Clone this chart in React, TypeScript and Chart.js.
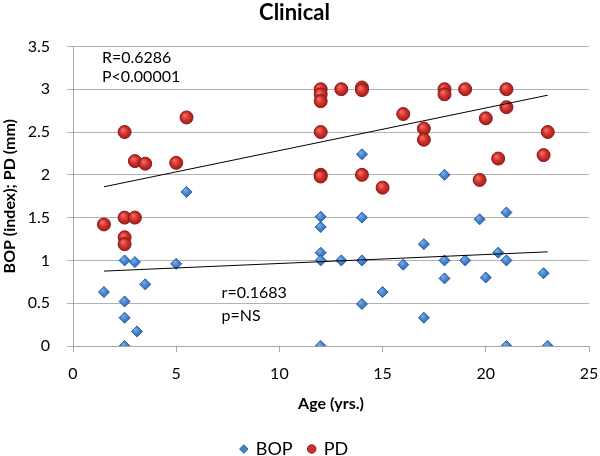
import React, { useEffect, useRef } from "react";
import { Chart, registerables } from "chart.js";

Chart.register(...registerables);

const bopX = [1.5, 2.5, 2.5, 2.5, 2.5, 3.0, 3.1, 3.5, 5.0, 5.5, 12, 12, 12, 12, 12, 13, 14, 14, 14, 14, 15, 16, 17, 17, 18, 18, 18, 19, 19.7, 20, 20.6, 21, 21, 21, 22.8, 23];
const bopY = [0.63, 1.0, 0.52, 0.33, 0.0, 0.98, 0.17, 0.72, 0.96, 1.8, 1.51, 1.39, 1.09, 1.0, 0.0, 1.0, 2.24, 1.5, 1.0, 0.49, 0.63, 0.95, 1.19, 0.33, 2.0, 1.0, 0.79, 1.0, 1.48, 0.8, 1.09, 1.56, 1.0, 0.0, 0.85, 0.0];

const pdX = [1.5, 2.5, 2.5, 2.5, 2.5, 3.0, 3.0, 3.5, 5.0, 5.5, 12, 12, 12, 12, 12, 12, 13, 14, 14, 14, 15, 16, 17, 17, 18, 18, 19, 19.7, 20, 20.6, 21, 21, 22.8, 23];
const pdY = [1.42, 2.5, 1.5, 1.27, 1.19, 2.16, 1.5, 2.13, 2.14, 2.67, 3.0, 2.94, 2.86, 2.5, 2.0, 1.98, 3.0, 3.02, 2.99, 2.0, 1.85, 2.71, 2.54, 2.41, 3.0, 2.94, 3.0, 1.94, 2.66, 2.19, 3.0, 2.79, 2.23, 2.5];

const trendX = [1.5, 23];
const pdTrendY = [1.86, 2.93];
const bopTrendY = [0.875, 1.1];

const xTicks = [0, 5, 10, 15, 20, 25];
const yTicks = [0, 0.5, 1, 1.5, 2, 2.5, 3, 3.5];

const notes = [
  { text: "R=0.6286", x: 1.4, y: 3.37 },
  { text: "P<0.00001", x: 1.4, y: 3.14 },
  { text: "r=0.1683", x: 7.2, y: 0.62 },
  { text: "p=NS", x: 7.2, y: 0.35 },
];

const FONT = "Lato, 'Open Sans', sans-serif";

const toPts = (xs: number[], ys: number[]) => xs.map((x, i) => ({ x, y: ys[i] }));

const shaded = (light: string, mid: string, dark: string, r: number) => (c: any) => {
  const chart = c.chart;
  const sx = chart.scales?.x;
  const sy = chart.scales?.y;
  if (!c.parsed || !sx || !sy || !chart.chartArea) return mid;
  const px = sx.getPixelForValue(c.parsed.x);
  const py = sy.getPixelForValue(c.parsed.y);
  if (!isFinite(px) || !isFinite(py)) return mid;
  const g = chart.ctx.createRadialGradient(px - r * 0.3, py - r * 0.35, 0, px, py, r);
  g.addColorStop(0, light);
  g.addColorStop(0.55, mid);
  g.addColorStop(1, dark);
  return g;
};

export default function App() {
  const ref = useRef<HTMLCanvasElement | null>(null);
  useEffect(() => {
    if (!ref.current) return;
    const notePlugin = {
      id: "notes",
      afterDatasetsDraw(chart: any) {
        const { ctx, scales } = chart;
        ctx.save();
        ctx.fillStyle = "#000";
        ctx.font = `16px ${FONT}`;
        ctx.textBaseline = "middle";
        ctx.textAlign = "left";
        notes.forEach((n) => {
          ctx.fillText(n.text, scales.x.getPixelForValue(n.x), scales.y.getPixelForValue(n.y));
        });
        ctx.restore();
      },
    };
    const chart = new Chart(ref.current, {
      type: "scatter",
      data: {
        datasets: [
          {
            label: "BOP",
            data: toPts(bopX, bopY),
            pointStyle: "rectRot",
            pointRadius: 5.5,
            backgroundColor: shaded("#7fb0ea", "#4382d0", "#2c62a8", 6),
            borderColor: "#2d5d9c",
            borderWidth: 1,
            order: 2,
          },
          {
            label: "PD",
            data: toPts(pdX, pdY),
            pointStyle: "circle",
            pointRadius: 6.5,
            backgroundColor: shaded("#f07a70", "#d0302c", "#9a1c18", 7),
            borderColor: "#8e1b18",
            borderWidth: 1,
            order: 1,
          },
          {
            label: "PD trend",
            type: "line",
            data: toPts(trendX, pdTrendY),
            borderColor: "#000",
            borderWidth: 1,
            pointRadius: 0,
            showLine: true,
            order: 0,
          } as any,
          {
            label: "BOP trend",
            type: "line",
            data: toPts(trendX, bopTrendY),
            borderColor: "#000",
            borderWidth: 1,
            pointRadius: 0,
            showLine: true,
            order: 0,
          } as any,
        ],
      },
      options: {
        animation: false,
        responsive: false,
        layout: { padding: { left: 0, right: 11, top: 0, bottom: -12 } },
        plugins: {
          title: {
            display: true,
            text: "Clinical",
            color: "#000",
            font: { family: FONT, size: 22, weight: "bold" },
            padding: { top: 0, bottom: 20 },
          },
          legend: {
            position: "bottom",
            labels: {
              filter: (item: any) => item.datasetIndex < 2,
              sort: (a: any, b: any) => a.datasetIndex - b.datasetIndex,
              usePointStyle: true,
              color: "#000",
              font: { family: FONT, size: 18 },
              boxWidth: 6,
              boxHeight: 6,
              padding: 16,
              generateLabels: (ch: any) => {
                const items = Chart.defaults.plugins.legend.labels.generateLabels(ch);
                return items.map((it: any) => ({
                  ...it,
                  fillStyle: it.datasetIndex === 0 ? "#4382d0" : "#d0302c",
                }));
              },
            },
          },
          tooltip: { enabled: false },
        },
        scales: {
          x: {
            type: "linear",
            min: 0,
            max: 25,
            afterBuildTicks: (s: any) => {
              s.ticks = xTicks.map((v) => ({ value: v }));
            },
            ticks: { color: "#000", font: { family: FONT, size: 16 }, padding: 12, callback: (v: any) => String(v) },
            grid: { display: true, drawOnChartArea: false, drawTicks: true, tickLength: 6, color: "#a6a6a6" },
            border: { color: "#a6a6a6" },
            title: {
              display: true,
              text: "Age (yrs.)",
              color: "#000",
              font: { family: FONT, size: 16, weight: "bold" },
              padding: { top: 6, bottom: 11 },
            },
            afterFit: (s: any) => {
              s.height = 78;
              s.paddingRight = 0;
              s.paddingLeft = 0;
            },
          },
          y: {
            type: "linear",
            min: 0,
            max: 3.5,
            afterBuildTicks: (s: any) => {
              s.ticks = yTicks.map((v) => ({ value: v }));
            },
            ticks: { color: "#000", font: { family: FONT, size: 16 }, padding: 17, callback: (v: any) => String(v) },
            grid: { color: "#b3b3b3", tickLength: 6 },
            border: { color: "#a6a6a6" },
            title: {
              display: true,
              text: "BOP (index); PD (mm)",
              color: "#000",
              font: { family: FONT, size: 16, weight: "bold" },
              padding: { top: 0, bottom: 4 },
            },
            afterFit: (s: any) => {
              s.width = 73;
            },
          },
        },
      },
      plugins: [notePlugin],
    } as any);
    return () => chart.destroy();
  }, []);
  return (
    <div style={{ position: "fixed", left: 0, top: 0, width: 600, height: 456, background: "#fff" }}>
      <canvas ref={ref} width={600} height={456} style={{ width: 600, height: 456 }} />
    </div>
  );
}
